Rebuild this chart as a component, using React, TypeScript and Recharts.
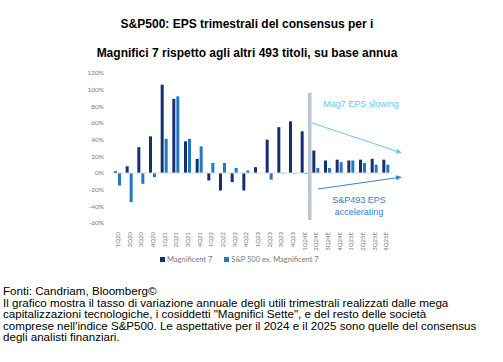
import { BarChart, Bar, XAxis, YAxis, ReferenceLine } from 'recharts';

const quarters = [
  '1Q20', '2Q20', '3Q20', '4Q20', '1Q21', '2Q21', '3Q21', '4Q21',
  '1Q22', '2Q22', '3Q22', '4Q22', '1Q23', '2Q23', '3Q23', '4Q23',
  '1Q24E', '2Q24E', '3Q24E', '4Q24E', '1Q25E', '2Q25E', '3Q25E', '4Q25E',
];
const mag7 = [2, 8, 31, 44, 106, 89, 38, 17, -9, -21, -11, -21, 7, 40, 55, 62, 50, 27, 15, 16, 15, 16, 17, 16];
const sp493 = [-15, -35, -13, -5, 41, 92, 41, 32, 12, 12, 6, 3, 0, -8, -0.5, -0.5, -1, 6, 6, 13, 15, 12, 10, 10];
const yTicks = [-60, -40, -20, 0, 20, 40, 60, 80, 100, 120];

const noteLines = [
  'Il grafico mostra il tasso di variazione annuale degli utili trimestrali realizzati dalle mega',
  'capitalizzazioni tecnologiche, i cosiddetti "Magnifici Sette", e del resto delle società',
  "comprese nell'indice S&P500. Le aspettative per il 2024 e il 2025 sono quelle del consensus",
  'degli analisti finanziari.',
];

const data = quarters.map((q, i) => ({ q, mag7: mag7[i], sp493: sp493[i] }));

const NAVY = '#14306f';
const BLUE = '#1f78c8';
const SKY = '#67c8f0';
const ARROW2 = '#2f86c8';
const TICK = '#7a7a7a';
const AXIS_FONT = 'Lato, "Open Sans", sans-serif';
const ARIAL = '"Liberation Sans", Arial, sans-serif';

function QuarterTick({ x, y, payload }: any) {
  const ty = y + 1;
  return (
    <text
      x={x}
      y={ty}
      transform={`rotate(-90 ${x} ${ty})`}
      textAnchor="end"
      dy="0.35em"
      fontSize={6}
      fill={TICK}
      fontFamily={AXIS_FONT}
    >
      {payload.value}
    </text>
  );
}

function Arrow({ x1, y1, x2, y2, color }: { x1: number; y1: number; x2: number; y2: number; color: string }) {
  const a = Math.atan2(y2 - y1, x2 - x1);
  const l = 6, w = 2.5;
  const bx = x2 - l * Math.cos(a), by = y2 - l * Math.sin(a);
  const p1 = `${bx + w * Math.sin(a)},${by - w * Math.cos(a)}`;
  const p2 = `${bx - w * Math.sin(a)},${by + w * Math.cos(a)}`;
  return (
    <g>
      <line x1={x1} y1={y1} x2={bx} y2={by} stroke={color} strokeWidth={1} />
      <polygon points={`${x2},${y2} ${p1} ${p2}`} fill={color} />
    </g>
  );
}

export default function App() {
  return (
    <div style={{ position: 'absolute', left: 0, top: 0, width: 503, height: 362, background: '#fff', fontFamily: ARIAL, color: '#000' }}>
      <BarChart
        width={503}
        height={362}
        data={data}
        margin={{ top: 73, right: 111, left: 72, bottom: 109 }}
        barSize={3}
        barGap={1}
        style={{ position: 'absolute', left: 0, top: 0 }}
      >
        <XAxis dataKey="q" interval={0} axisLine={false} tickLine={false} height={30} tick={<QuarterTick />} />
        <YAxis
          domain={[-60, 120]}
          ticks={yTicks}
          width={40}
          axisLine={false}
          tickLine={false}
          tickFormatter={(v) => `${v}%`}
          tick={{ fontSize: 6.5, fill: TICK, fontFamily: AXIS_FONT }}
        />
        <ReferenceLine y={0} stroke="#d9d9d9" strokeWidth={1} />
        <Bar dataKey="mag7" fill={NAVY} isAnimationActive={false} />
        <Bar dataKey="sp493" fill={BLUE} isAnimationActive={false} />
      </BarChart>

      {/* forecast divider and annotations */}
      <svg width={503} height={362} style={{ position: 'absolute', left: 0, top: 0, pointerEvents: 'none' }}>
        <rect x={308} y={93} width={3.5} height={127} fill="#bcc5d6" />
        <Arrow x1={312} y1={123} x2={402} y2={153} color={SKY} />
        <Arrow x1={318} y1={189} x2={402} y2={177} color={ARROW2} />
        <text x={361} y={107} textAnchor="middle" fontSize={9} fill={SKY} fontFamily={ARIAL}>
          Mag7 EPS slowing
        </text>
        <text x={359} y={203} textAnchor="middle" fontSize={9} fill={ARROW2} fontFamily={ARIAL}>
          S&amp;P493 EPS
        </text>
        <text x={359} y={214.5} textAnchor="middle" fontSize={9} fill={ARROW2} fontFamily={ARIAL}>
          accelerating
        </text>
      </svg>

      <div style={{ position: 'absolute', top: 10, left: 0, width: 494, textAlign: 'center', fontWeight: 'bold', fontSize: 12, lineHeight: '29px' }}>
        <div>S&amp;P500: EPS trimestrali del consensus per i</div>
        <div>Magnifici 7 rispetto agli altri 493 titoli, su base annua</div>
      </div>

      <div style={{ position: 'absolute', top: 255, left: 160, display: 'flex', gap: 12, fontSize: 7.5, color: TICK, fontFamily: AXIS_FONT, alignItems: 'center' }}>
        <span style={{ display: 'flex', alignItems: 'center', gap: 2 }}>
          <span style={{ width: 5, height: 5, background: NAVY, display: 'inline-block' }} />
          Magnificent 7
        </span>
        <span style={{ display: 'flex', alignItems: 'center', gap: 2 }}>
          <span style={{ width: 5, height: 5, background: BLUE, display: 'inline-block' }} />
          S&amp;P 500 ex. Magnificent 7
        </span>
      </div>

      <div style={{ position: 'absolute', top: 285, left: 3, width: 500, fontSize: 11.6, lineHeight: '11.6px', whiteSpace: 'nowrap' }}>
        <div>Fonti: Candriam, Bloomberg©</div>
        {noteLines.map((l) => (
          <div key={l}>{l}</div>
        ))}
      </div>
    </div>
  );
}
